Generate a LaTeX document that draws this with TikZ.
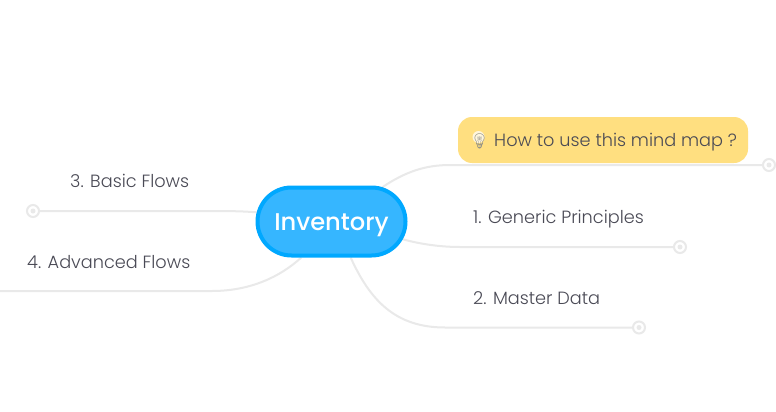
\documentclass[tikz,border=0pt]{standalone}
\usepackage{fontspec}
\usetikzlibrary{shapes.misc,backgrounds}
\setmainfont{Poppins Light}
\newfontfamily\boldish{Poppins Medium}
\newfontfamily\emojifont{Noto Emoji}
\definecolor{linegray}{HTML}{E9E9E9}
\definecolor{txt}{HTML}{4A4A55}
\definecolor{rootfill}{HTML}{36B6FF}
\definecolor{rootline}{HTML}{00A8FF}
\definecolor{noteyellow}{HTML}{FFDF80}
\definecolor{bulb}{HTML}{8F8F88}
\definecolor{bulbglow}{HTML}{FFF6DC}
\tikzset{
  x=1pt,y=-1pt,
  conn/.style={draw=linegray,line width=2pt},
  knob/.style={circle,draw=linegray,line width=2pt,fill=white,minimum size=12pt,inner sep=0pt},
  knobdot/.style={circle,fill=linegray,minimum size=5pt,inner sep=0pt},
  topic/.style={font=\fontsize{17.7}{20}\selectfont,text=txt,inner sep=0pt,anchor=base west},
  rootnode/.style={rounded rectangle,draw=rootline,fill=rootfill,line width=4pt,minimum width=148pt,minimum height=68pt,inner sep=0pt,text=white,text height=24pt,text depth=6pt,font=\boldish\fontsize{24.2}{28}\selectfont},
  notebox/.style={rectangle,rounded corners=14pt,fill=noteyellow,minimum width=290pt,minimum height=46pt,inner sep=0pt},
  glow/.style={circle,fill=bulbglow,minimum size=12pt,inner sep=0pt},
}
\begin{document}
\begin{tikzpicture}
\useasboundingbox (0,0) rectangle (776,412);
\coordinate (c0) at (0,291);
\node[notebox] (note) at (603,140) {};
\node[rootnode] (root) at (331.5,221.5) {Inventory};
\node[knob] (k1) at (769,165) {};
\node[knob] (k2) at (680,247) {};
\node[knob] (k3) at (639,327.5) {};
\node[knob] (k4) at (33,211) {};
\node[knobdot] (d1) at (k1) {};
\node[knobdot] (d2) at (k2) {};
\node[knobdot] (d3) at (k3) {};
\node[knobdot] (d4) at (k4) {};
\begin{pgfonlayer}{background}
\fill[white] (0,0) rectangle (776,412);
\draw[conn] (root.34) .. controls (405,172) and (425,165) .. (450,165) -- (k1.west);
\draw[conn] (root.-14) .. controls (420,244) and (440,247) .. (460,247) -- (k2.west);
\draw[conn] (root.-62) .. controls (370,300) and (395,327.5) .. (445,327.5) -- (k3.west);
\draw[conn] (root.173) .. controls (240,211) and (225,211) .. (205,211) -- (k4.east);
\draw[conn] (root.230) .. controls (280,277) and (250,291) .. (212,291) -- (c0);
\end{pgfonlayer}
\node[glow] (bg) at (478.5,137) {};
\node[topic] (t0) at (470,146) {{\emojifont\fontsize{15}{18}\selectfont\textcolor{bulb}{💡}}\hspace{5pt}How to use this mind map ?};
\node[topic] (t1) at (473,223) {1. Generic Principles};
\node[topic] (t2) at (473,304) {2. Master Data};
\node[topic] (t3) at (70,187) {3. Basic Flows};
\node[topic] (t4) at (27,268) {4. Advanced Flows};
\end{tikzpicture}
\end{document}
